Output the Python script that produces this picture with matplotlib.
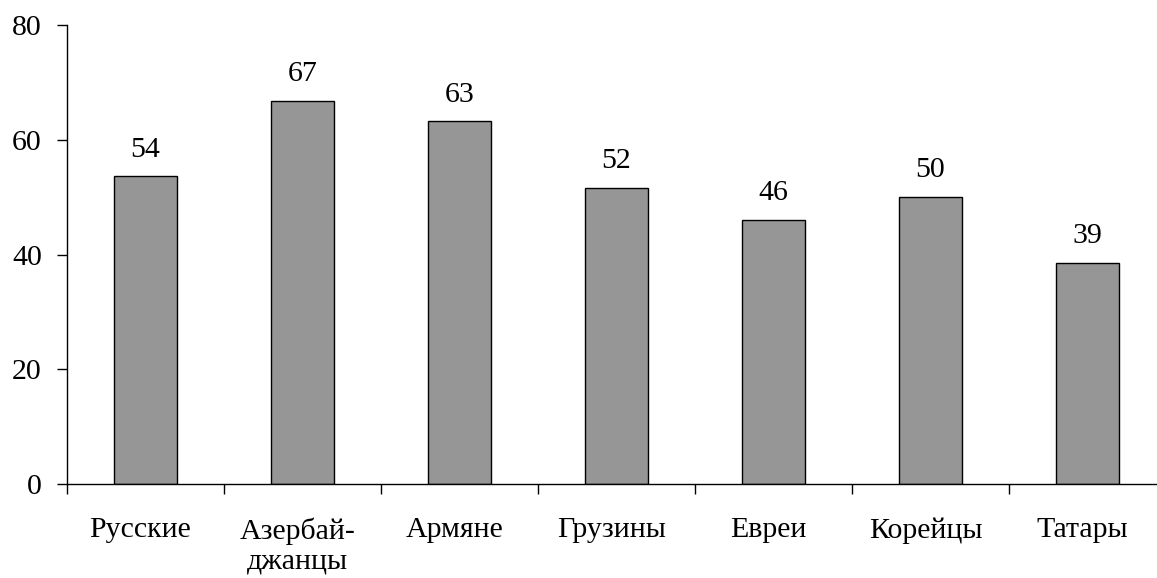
import matplotlib.pyplot as plt
import matplotlib.transforms as mtransforms
import numpy as np

categories = ["Русские", "Азербай-\nджанцы", "Армяне", "Грузины", "Евреи", "Корейцы", "Татары"]
values = [54, 67, 63, 52, 46, 50, 39]
# bar heights (labels are rounded)
heights = [53.6, 66.8, 63.2, 51.6, 46.1, 50.0, 38.6]
yticks = [0, 20, 40, 60, 80]

plt.rcParams["font.family"] = ["Liberation Serif", "DejaVu Serif"]
FS = 21.5

fig = plt.figure(figsize=(11.57, 5.78), dpi=100)
ax = fig.add_axes([0.0579, 0.1626, 0.9499, 0.7941])

x = np.arange(len(categories))
bars = ax.bar(x, heights, width=0.4, color="#969696", edgecolor="black", linewidth=1.0)

for xi, h, v in zip(x, heights, values):
    ax.annotate(str(v), (xi, h), xytext=(0, 10), textcoords="offset points",
                ha="center", va="bottom", fontsize=FS)

ax.set_xlim(-0.5, len(categories) - 0.5)
ax.set_ylim(0, 80)
ax.set_yticks(yticks)
ax.set_yticklabels([str(t) for t in yticks], fontsize=FS)

ax.set_xticks(x)
ax.set_xticklabels(categories, fontsize=FS, va="top", linespacing=1.2)
ax.tick_params(axis="x", length=0, pad=24)
# category labels sit a little left of the bar centres
shift = mtransforms.ScaledTranslation(-5 / 100, 0, fig.dpi_scale_trans)
for lbl in ax.get_xticklabels():
    lbl.set_transform(lbl.get_transform() + shift)
ax.set_xticks(np.arange(len(categories) + 1) - 0.5, minor=True)
ax.tick_params(axis="x", which="minor", length=7, width=1, direction="out")
ax.tick_params(axis="y", length=7, width=1, direction="out", pad=11)

for side in ["top", "right"]:
    ax.spines[side].set_visible(False)
ax.spines["left"].set_linewidth(1)
ax.spines["bottom"].set_linewidth(1)

fig.savefig("out.png", dpi=100)
